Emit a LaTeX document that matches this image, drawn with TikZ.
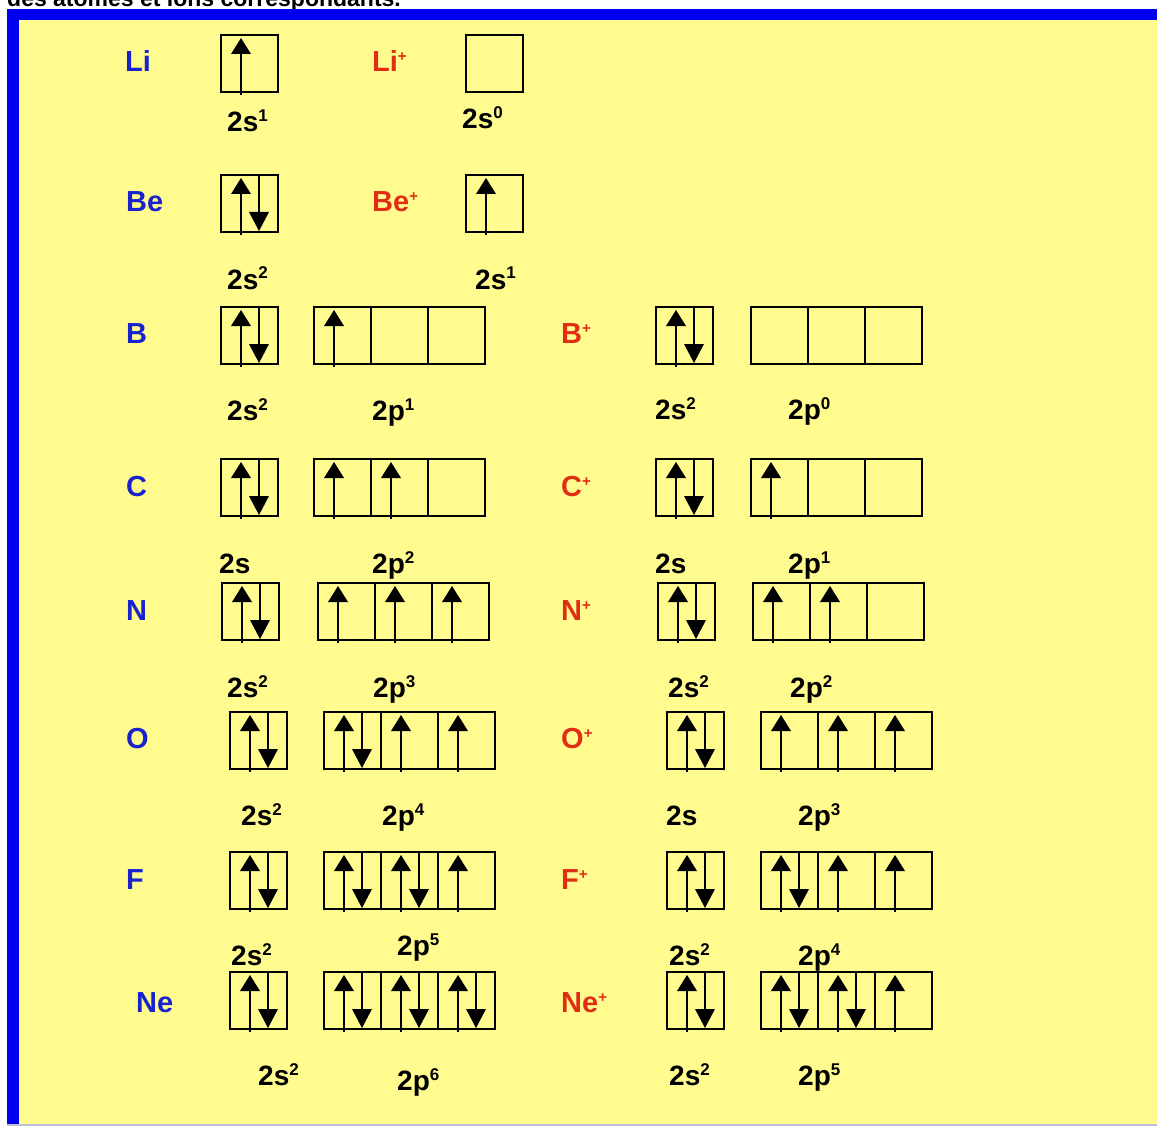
\documentclass[tikz,border=0pt]{standalone}
\usepackage{fontspec}
\setmainfont{Liberation Sans}
\definecolor{bgyellow}{RGB}{255,251,143}
\definecolor{frameblue}{RGB}{0,0,240}
\definecolor{elblue}{RGB}{25,35,205}
\definecolor{elred}{RGB}{225,45,20}
\definecolor{edgegrey}{RGB}{190,190,215}
\newcommand{\plusmark}{{\fontsize{15}{15}\selectfont\raisebox{10pt}{+}}}
\newcommand{\supn}[1]{{\fontsize{17}{17}\selectfont\raisebox{10pt}{#1}}}
\newcommand{\uparrowat}[2]{%
  \draw[shaft] (#1,#2+17) -- (#1,#2+60);
  \fill (#1,#2+3) -- ++(-10,16) -- ++(20,0) -- cycle;}
\newcommand{\downarrowat}[2]{%
  \draw[shaft] (#1,#2) -- (#1,#2+40);
  \fill (#1,#2+56) -- ++(-10,-19) -- ++(20,0) -- cycle;}
\newcommand{\orbrow}[3]{%
  \foreach \c [count=\i from 0] in {#3} {
    \pgfmathsetmacro{\cx}{#1+57*\i}
    \draw[boxline] (\cx,#2) rectangle ++(57,57);
    \ifnum\c>0 \uparrowat{\cx+20}{#2}\fi
    \ifnum\c>1 \downarrowat{\cx+38}{#2}\fi
  }}
\tikzset{
  boxline/.style={line width=1.8pt, draw=black},
  shaft/.style={line width=1.3pt, draw=black},
  elb/.style={font=\fontsize{29}{29}\selectfont\bfseries, text=elblue, anchor=base west, inner sep=0pt},
  elr/.style={font=\fontsize{29}{29}\selectfont\bfseries, text=elred, anchor=base west, inner sep=0pt},
  orbl/.style={font=\fontsize{28}{28}\selectfont\bfseries, text=black, anchor=base west, inner sep=0pt},
}
\begin{document}
\begin{tikzpicture}[x=1pt,y=-1pt]
\useasboundingbox (0,0) rectangle (1157,1126);
\fill[white] (0,0) rectangle (1157,1126);
\node[font=\fontsize{23}{23}\selectfont\bfseries, anchor=base west, inner sep=0pt] (title) at (7,7) {des atomes et ions correspondants.};
\fill[frameblue] (7,9) rectangle (1157,1124);
\fill[bgyellow] (19,20) rectangle (1157,1124);
\fill[edgegrey] (7,1123.5) rectangle (1157,1126);
% Li
\node[elb] (Li) at (125,72) {Li};
\node[elr] (Lip) at (372,72) {Li\plusmark};
\orbrow{221}{35}{1}
\orbrow{466}{35}{0}
\node[orbl] (LiS) at (227,132) {2s\supn{1}};
\node[orbl] (LipS) at (462,129) {2s\supn{0}};
% Be
\node[elb] (Be) at (126,212) {Be};
\node[elr] (Bep) at (372,212) {Be\plusmark};
\orbrow{221}{175}{2}
\orbrow{466}{175}{1}
\node[orbl] (BeS) at (227,289) {2s\supn{2}};
\node[orbl] (BepS) at (475,289) {2s\supn{1}};
% B
\node[elb] (B) at (126,343) {B};
\node[elr] (Bp) at (561,343) {B\plusmark};
\orbrow{221}{307}{2}
\orbrow{314}{307}{1,0,0}
\orbrow{656}{307}{2}
\orbrow{751}{307}{0,0,0}
\node[orbl] (BS) at (227,420) {2s\supn{2}};
\node[orbl] (BP) at (372,420) {2p\supn{1}};
\node[orbl] (BpS) at (655,419) {2s\supn{2}};
\node[orbl] (BpP) at (788,419) {2p\supn{0}};
% C
\node[elb] (C) at (126,496) {C};
\node[elr] (Cp) at (561,496) {C\plusmark};
\orbrow{221}{459}{2}
\orbrow{314}{459}{1,1,0}
\orbrow{656}{459}{2}
\orbrow{751}{459}{1,0,0}
\node[orbl] (CS) at (219,573) {2s};
\node[orbl] (CP) at (372,573) {2p\supn{2}};
\node[orbl] (CpS) at (655,573) {2s};
\node[orbl] (CpP) at (788,573) {2p\supn{1}};
% N
\node[elb] (N) at (126,620) {N};
\node[elr] (Np) at (561,620) {N\plusmark};
\orbrow{222}{583}{2}
\orbrow{318}{583}{1,1,1}
\orbrow{658}{583}{2}
\orbrow{753}{583}{1,1,0}
\node[orbl] (NS) at (227,697) {2s\supn{2}};
\node[orbl] (NP) at (373,697) {2p\supn{3}};
\node[orbl] (NpS) at (668,697) {2s\supn{2}};
\node[orbl] (NpP) at (790,697) {2p\supn{2}};
% O
\node[elb] (O) at (126,748) {O};
\node[elr] (Op) at (561,748) {O\plusmark};
\orbrow{230}{712}{2}
\orbrow{324}{712}{2,1,1}
\orbrow{667}{712}{2}
\orbrow{761}{712}{1,1,1}
\node[orbl] (OS) at (241,825) {2s\supn{2}};
\node[orbl] (OP) at (382,825) {2p\supn{4}};
\node[orbl] (OpS) at (666,825) {2s};
\node[orbl] (OpP) at (798,825) {2p\supn{3}};
% F
\node[elb] (F) at (126,889) {F};
\node[elr] (Fp) at (561,889) {F\plusmark};
\orbrow{230}{852}{2}
\orbrow{324}{852}{2,2,1}
\orbrow{667}{852}{2}
\orbrow{761}{852}{2,1,1}
\node[orbl] (FS) at (231,965) {2s\supn{2}};
\node[orbl] (FP) at (397,955) {2p\supn{5}};
\node[orbl] (FpS) at (669,965) {2s\supn{2}};
\node[orbl] (FpP) at (798,965) {2p\supn{4}};
% Ne
\node[elb] (Ne) at (136,1012) {Ne};
\node[elr] (Nep) at (561,1012) {Ne\plusmark};
\orbrow{230}{972}{2}
\orbrow{324}{972}{2,2,2}
\orbrow{667}{972}{2}
\orbrow{761}{972}{2,2,1}
\node[orbl] (NeS) at (258,1085) {2s\supn{2}};
\node[orbl] (NeP) at (397,1090) {2p\supn{6}};
\node[orbl] (NepS) at (669,1085) {2s\supn{2}};
\node[orbl] (NepP) at (798,1085) {2p\supn{5}};
\end{tikzpicture}
\end{document}
